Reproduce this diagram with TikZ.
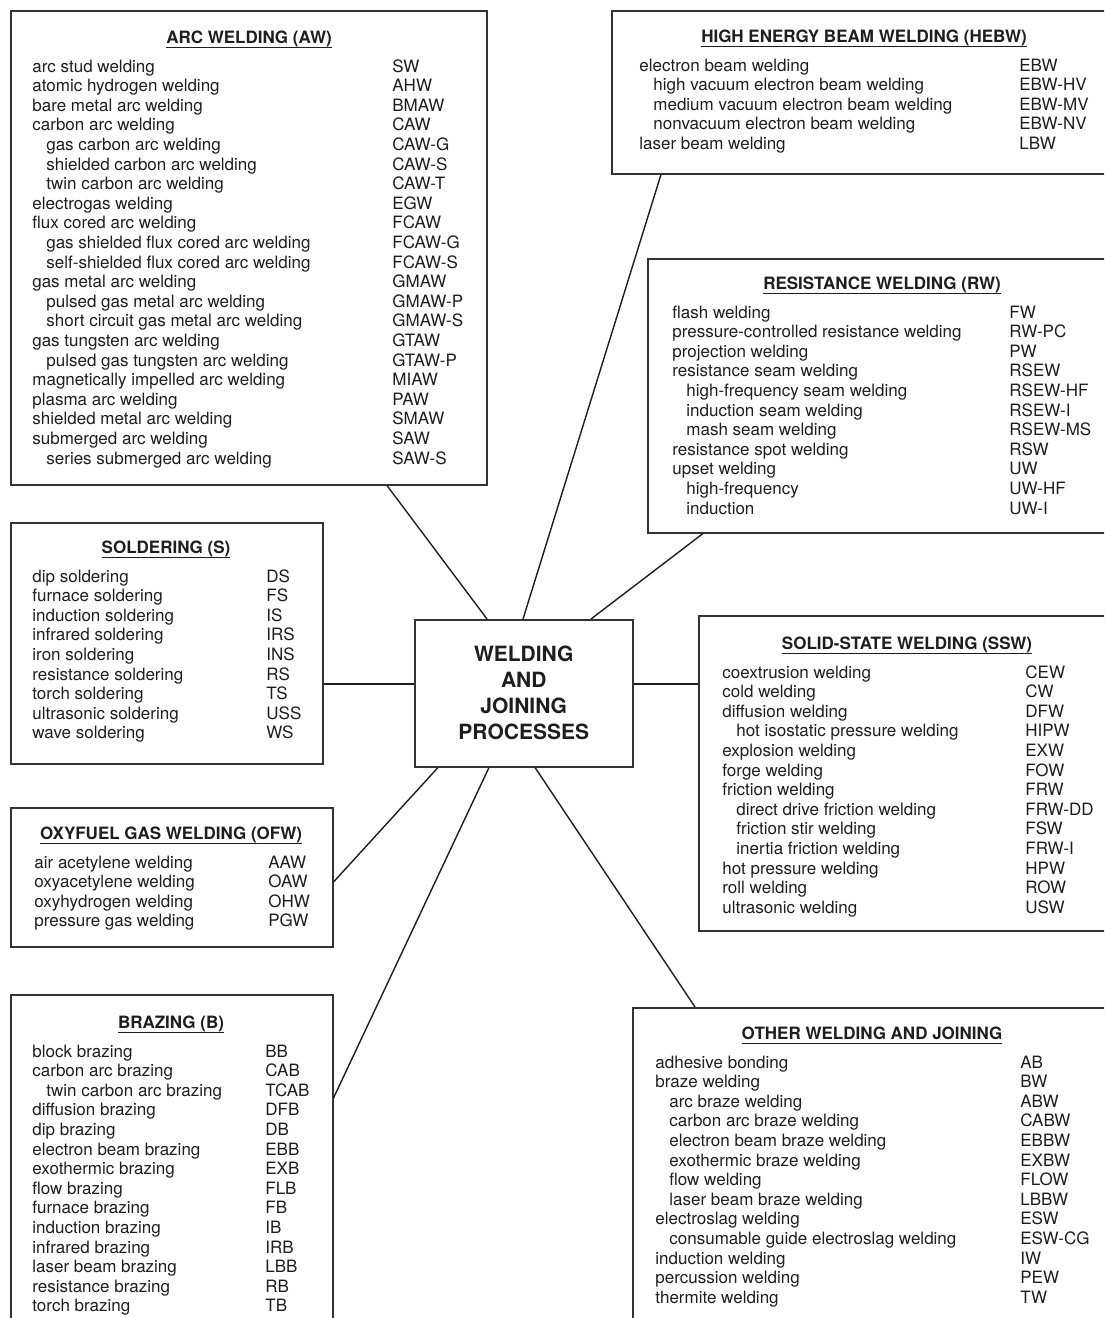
\documentclass[tikz,border=0pt]{standalone}
\usepackage{fontspec}
\setmainfont{TeX Gyre Heros}
\usetikzlibrary{calc}
\definecolor{ink}{HTML}{1E1E1E}
\definecolor{frame}{HTML}{333333}
\def\u{0.5pt}
\newcommand\ulx[1]{\setbox0\hbox{#1}\rlap{\rule[-2.6pt]{\wd0}{0.65pt}}\box0}
\newcommand\boxlist[6]{% prefix, x, xind, xabbr, first baseline, list
  \foreach \t/\a/\d [count=\i from 0] in {#6} {
    \node[item] (#1-\i) at ({#2+\d*(#3-#2)},{#5+\i*19.6}) {\t};
    \node[item] (#1-a\i) at (#4,{#5+\i*19.6}) {\a};
  }}
\begin{document}
\begin{tikzpicture}[x=0.5pt,y=-0.5pt,
  panel/.style={draw=frame,line width=0.75pt,inner sep=0pt,anchor=north west},
  item/.style={inner sep=0pt,anchor=base west,text=ink,font=\fontsize{8.5pt}{9.8pt}\selectfont},
  title/.style={inner sep=0pt,anchor=base,text=ink,font=\bfseries\fontsize{8.5pt}{9.8pt}\selectfont},
  link/.style={draw=ink,line width=0.7pt}]
\clip (0,0) rectangle (1104,1318);
\fill[white] (0,0) rectangle (1104,1318);

% panels
\node[panel,minimum width=476*\u,minimum height=474*\u] (aw) at (10,10) {};
\node[panel,minimum width=520*\u,minimum height=163*\u] (hebw) at (611,10) {};
\node[panel,minimum width=480*\u,minimum height=274*\u] (rw) at (647,258) {};
\node[panel,minimum width=312*\u,minimum height=241*\u] (sol) at (10,522) {};
\node[panel,minimum width=420*\u,minimum height=315*\u] (ssw) at (698,615) {};
\node[panel,minimum width=322*\u,minimum height=139*\u] (ofw) at (10,807) {};
\node[panel,minimum width=322*\u,minimum height=340*\u] (braz) at (10,994) {};
\node[panel,minimum width=500*\u,minimum height=330*\u] (oth) at (632,1007) {};
\node[panel,minimum width=218*\u,minimum height=147*\u,align=center,text=ink,
  font=\bfseries\fontsize{10.5pt}{13pt}\selectfont] (c) at (414,619)
  {WELDING\\AND\\JOINING\\PROCESSES};

% connectors
\draw[link] ($(c.north west)+(73,0)$) -- ($(aw.south west)+(377,0)$);
\draw[link] ($(c.north west)+(109,0)$) -- ($(hebw.south west)+(50,0)$);
\draw[link] ($(c.north west)+(177,0)$) -- ($(rw.south west)+(56,0)$);
\draw[link] ($(c.north west)+(0,65)$) -- ($(sol.north east)+(0,162)$);
\draw[link] ($(c.north east)+(0,65)$) -- ($(ssw.north west)+(0,69)$);
\draw[link] ($(c.south west)+(24,0)$) -- ($(ofw.north east)+(0,75)$);
\draw[link] ($(c.south west)+(75,0)$) -- ($(braz.north east)+(0,104)$);
\draw[link] ($(c.south west)+(121,0)$) -- ($(oth.north west)+(63,0)$);

% titles
\node[title] (aw-t) at (249,43) {\ulx{ARC WELDING (AW)}};
\node[title] (hebw-t) at (864,42) {\ulx{HIGH ENERGY BEAM WELDING (HEBW)}};
\node[title] (rw-t) at (882,289) {\ulx{RESISTANCE WELDING (RW)}};
\node[title] (sol-t) at (166,553) {\ulx{SOLDERING (S)}};
\node[title] (ssw-t) at (907,649) {\ulx{SOLID-STATE WELDING (SSW)}};
\node[title] (ofw-t) at (171,839) {\ulx{OXYFUEL GAS WELDING (OFW)}};
\node[title] (braz-t) at (171,1028) {\ulx{BRAZING (B)}};
\node[title] (oth-t) at (872,1039) {\ulx{OTHER WELDING AND JOINING}};

% lists
\boxlist{awl}{32}{46}{392}{72}{arc stud welding/SW/0,atomic hydrogen welding/AHW/0,bare metal arc welding/BMAW/0,carbon arc welding/CAW/0,gas carbon arc welding/CAW-G/1,shielded carbon arc welding/CAW-S/1,twin carbon arc welding/CAW-T/1,electrogas welding/EGW/0,flux cored arc welding/FCAW/0,gas shielded flux cored arc welding/FCAW-G/1,self-shielded flux cored arc welding/FCAW-S/1,gas metal arc welding/GMAW/0,pulsed gas metal arc welding/GMAW-P/1,short circuit gas metal arc welding/GMAW-S/1,gas tungsten arc welding/GTAW/0,pulsed gas tungsten arc welding/GTAW-P/1,magnetically impelled arc welding/MIAW/0,plasma arc welding/PAW/0,shielded metal arc welding/SMAW/0,submerged arc welding/SAW/0,series submerged arc welding/SAW-S/1}
\boxlist{hebwl}{639}{653}{1019}{71}{electron beam welding/EBW/0,high vacuum electron beam welding/EBW-HV/1,medium vacuum electron beam welding/EBW-MV/1,nonvacuum electron beam welding/EBW-NV/1,laser beam welding/LBW/0}
\boxlist{rwl}{672}{686}{1009}{318}{flash welding/FW/0,pressure-controlled resistance welding/RW-PC/0,projection welding/PW/0,resistance seam welding/RSEW/0,high-frequency seam welding/RSEW-HF/1,induction seam welding/RSEW-I/1,mash seam welding/RSEW-MS/1,resistance spot welding/RSW/0,upset welding/UW/0,high-frequency/UW-HF/1,induction/UW-I/1}
\boxlist{soll}{32}{46}{266}{582}{dip soldering/DS/0,furnace soldering/FS/0,induction soldering/IS/0,infrared soldering/IRS/0,iron soldering/INS/0,resistance soldering/RS/0,torch soldering/TS/0,ultrasonic soldering/USS/0,wave soldering/WS/0}
\boxlist{sswl}{722}{736}{1025}{678}{coextrusion welding/CEW/0,cold welding/CW/0,diffusion welding/DFW/0,hot isostatic pressure welding/HIPW/1,explosion welding/EXW/0,forge welding/FOW/0,friction welding/FRW/0,direct drive friction welding/FRW-DD/1,friction stir welding/FSW/1,inertia friction welding/FRW-I/1,hot pressure welding/HPW/0,roll welding/ROW/0,ultrasonic welding/USW/0}
\boxlist{ofwl}{34}{48}{268}{868}{air acetylene welding/AAW/0,oxyacetylene welding/OAW/0,oxyhydrogen welding/OHW/0,pressure gas welding/PGW/0}
\boxlist{brazl}{32}{46}{265}{1057}{block brazing/BB/0,carbon arc brazing/CAB/0,twin carbon arc brazing/TCAB/1,diffusion brazing/DFB/0,dip brazing/DB/0,electron beam brazing/EBB/0,exothermic brazing/EXB/0,flow brazing/FLB/0,furnace brazing/FB/0,induction brazing/IB/0,infrared brazing/IRB/0,laser beam brazing/LBB/0,resistance brazing/RB/0,torch brazing/TB/0}
\boxlist{othl}{655}{669}{1020}{1068}{adhesive bonding/AB/0,braze welding/BW/0,arc braze welding/ABW/1,carbon arc braze welding/CABW/1,electron beam braze welding/EBBW/1,exothermic braze welding/EXBW/1,flow welding/FLOW/1,laser beam braze welding/LBBW/1,electroslag welding/ESW/0,consumable guide electroslag welding/ESW-CG/1,induction welding/IW/0,percussion welding/PEW/0,thermite welding/TW/0}
\end{tikzpicture}
\end{document}
